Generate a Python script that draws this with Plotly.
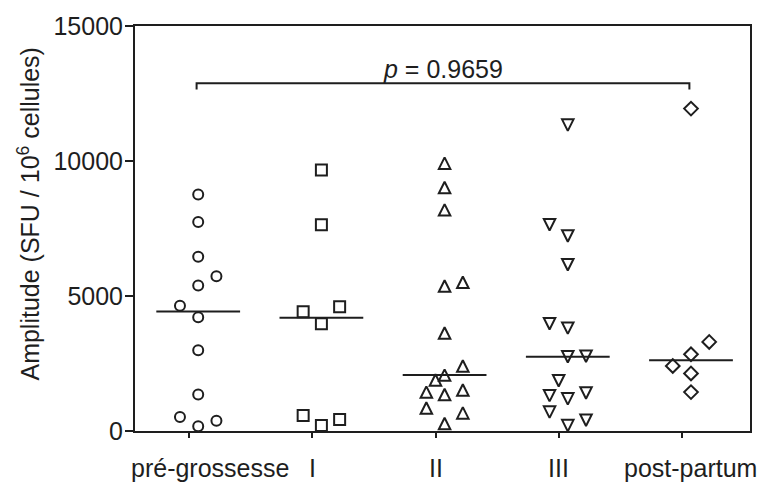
import numpy as np
import plotly.graph_objects as go

# ---- data ----
categories = ["pré-grossesse", "I", "II", "III", "post-partum"]

pre_values = [8760, 7740, 6450, 5730, 5390, 4640, 4210, 2990, 1350, 520, 380, 180]
pre_jitter = [0, 0, 0, 1, 0, -1, 0, 0, 0, -1, 1, 0]

t1_values = [9670, 7640, 4420, 4600, 3970, 570, 430, 200]
t1_jitter = [0, 0, -1, 1, 0, -1, 1, 0]

t2_values = [9920, 9020, 8190, 5370, 5510, 3630, 2410, 2070, 1890, 1440, 1350, 1520, 850, 670, 280]
t2_jitter = [0, 0, 0, 0, 1, 0, 1, 0, -0.5, -1, 0, 1, -1, 1, 0]

t3_values = [11330, 7640, 7220, 6160, 3970, 3810, 2750, 2770, 1860, 1310, 1190, 1410, 700, 200, 400]
t3_jitter = [0, -1, 0, 0, -1, 0, 0, 1, -0.5, -1, 0, 1, -1, 0, 1]

pp_values = [11940, 3300, 2840, 2410, 2130, 1440]
pp_jitter = [0, 1, 0, -1, 0, 0]

p_text = "<i>p</i> = 0.9659"
y_ticks = [0, 5000, 10000, 15000]
y_tick_text = ["0", "5000", "10000", "15000"]

groups = [
    (pre_values, pre_jitter, "circle-open", 10, 0, 0),
    (t1_values, t1_jitter, "square-open", 11, 0, 0),
    (t2_values, t2_jitter, "arrow-down-open", 11.5, 180, 5.75),
    (t3_values, t3_jitter, "arrow-down-open", 11.5, 0, 5.75),
    (pp_values, pp_jitter, "diamond-open", 10.5, 0, 0),
]

INK = "#1e1e1e"
FONT = "Liberation Sans, Arial, sans-serif"
FS = 25
SHIFT = 0.073      # column centre offset from tick
JIT = 0.148        # horizontal jitter step
HALF = 0.34        # half-width of median line

fig = go.Figure()
shapes = []
for i, (vals, jit, sym, sz, ang, so) in enumerate(groups):
    xs = [i + SHIFT + j * JIT for j in jit]
    fig.add_trace(go.Scatter(
        x=xs, y=vals, mode="markers", showlegend=False, hoverinfo="skip",
        marker=dict(symbol=sym, size=sz, angle=ang, standoff=so,
                    color=INK, line=dict(color=INK, width=2)),
    ))
    med = float(np.median(vals))
    shapes.append(dict(type="line", xref="x", yref="y",
                       x0=i + SHIFT - HALF, x1=i + SHIFT + HALF, y0=med, y1=med,
                       line=dict(color=INK, width=2)))

# significance bracket
yb = 12880
drop = 230
xa, xb = 0 + SHIFT - 0.013, 4 + SHIFT - 0.013
shapes.append(dict(type="path", xref="x", yref="y",
                   path=f"M {xa},{yb - drop} L {xa},{yb} L {xb},{yb} L {xb},{yb - drop}",
                   line=dict(color=INK, width=2)))

annotations = [dict(x=2.06, y=13400, xref="x", yref="y", text=p_text, showarrow=False,
                    font=dict(size=FS, color=INK, family=FONT), xanchor="center", yanchor="middle")]

label_x = [0.17, 1.0, 2.0, 3.0, 4.07]
for lx, lab in zip(label_x, categories):
    annotations.append(dict(x=lx, y=-0.092, xref="x", yref="paper", text=lab, showarrow=False,
                            font=dict(size=FS, color=INK, family=FONT),
                            xanchor="center", yanchor="middle"))

annotations.append(dict(x=-0.172, y=0.535, xref="paper", yref="paper",
                        text="Amplitude (SFU / 10<sup>6</sup> cellules)", textangle=-90,
                        showarrow=False, font=dict(size=FS, color=INK, family=FONT),
                        xanchor="center", yanchor="middle"))

fig.update_layout(
    width=765, height=486,
    margin=dict(l=135, r=15, t=20, b=55),
    paper_bgcolor="white", plot_bgcolor="white",
    shapes=shapes, annotations=annotations,
    font=dict(family=FONT, size=FS, color=INK),
)
fig.update_xaxes(range=[-0.44, 4.552], tickvals=list(range(5)), showticklabels=False,
                 ticks="outside", ticklen=5, tickwidth=2, tickcolor=INK,
                 showline=True, linecolor=INK, linewidth=2, mirror=True,
                 showgrid=False, zeroline=False)
fig.update_yaxes(range=[0, 15000], tickvals=y_ticks, ticktext=y_tick_text,
                 ticks="outside", ticklen=8, ticklabelstandoff=-3,
                 tickwidth=2, tickcolor=INK, showline=True, linecolor=INK, linewidth=2,
                 mirror=True, showgrid=False, zeroline=False,
                 tickfont=dict(size=FS, color=INK, family=FONT))

fig.write_html("out.html")
